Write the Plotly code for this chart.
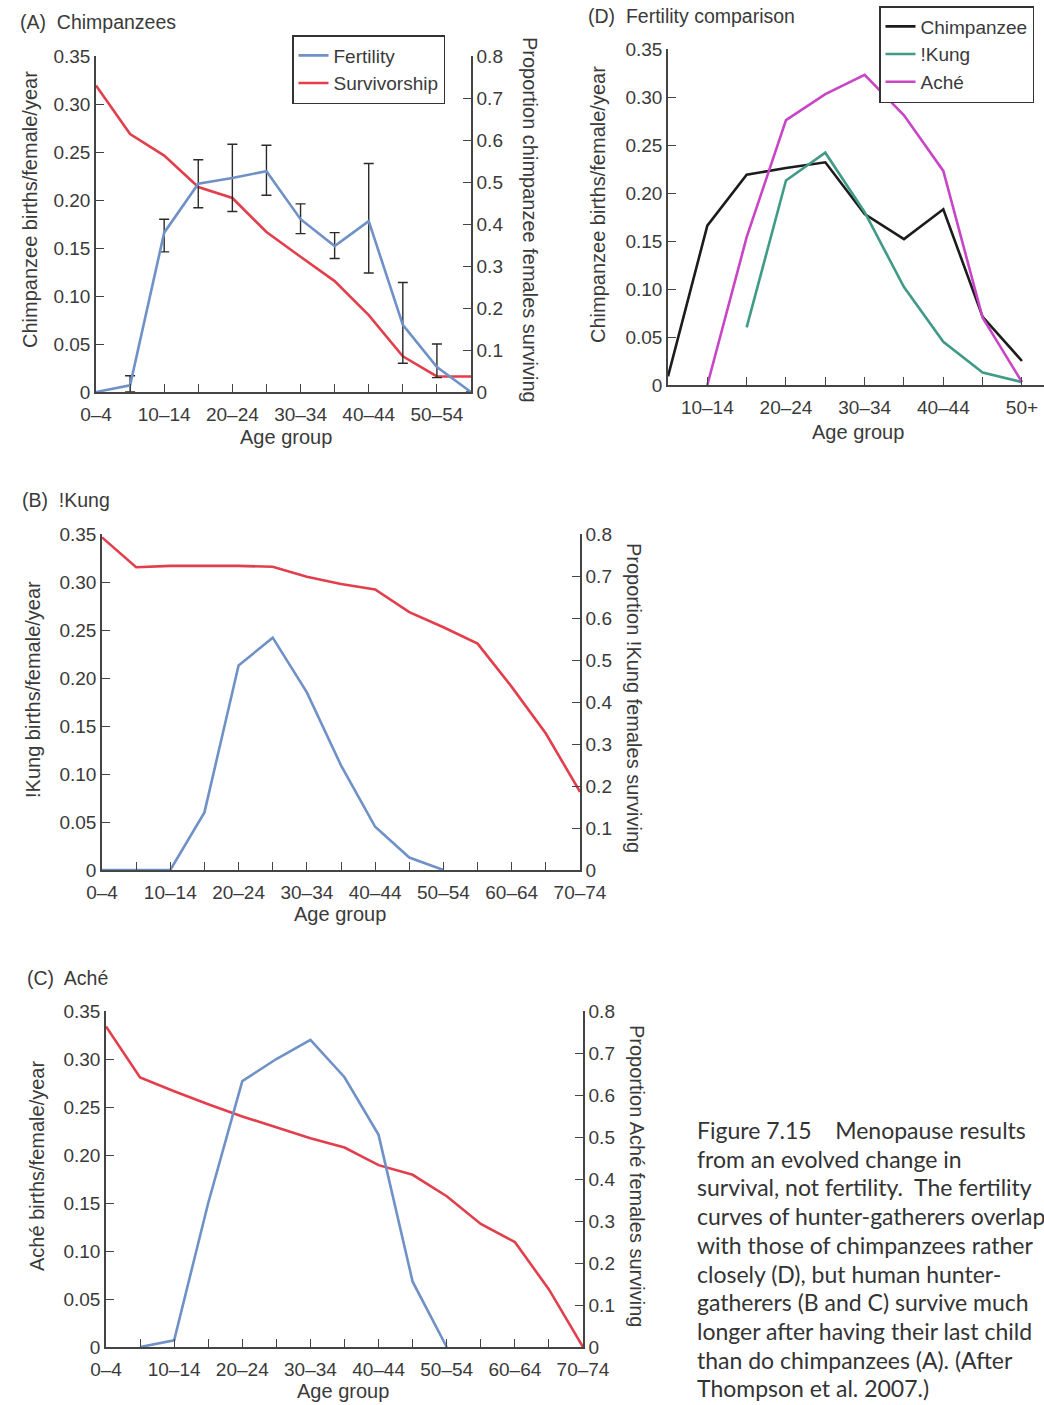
import plotly.graph_objects as go

W, H = 1044, 1405

AGE_GROUPS = ["0–4", "5–9", "10–14", "15–19", "20–24", "25–29", "30–34", "35–39",
              "40–44", "45–49", "50–54", "55–59", "60–64", "65–69", "70–74"]
D_GROUPS = ["5–9", "10–14", "15–19", "20–24", "25–29", "30–34", "35–39", "40–44", "45–49", "50+"]

# (A) chimpanzees, 0-4 .. 55-59
chimp_fert = [0.0, 0.007, 0.166, 0.217, 0.223, 0.230, 0.180, 0.152, 0.178, 0.070, 0.026, 0.0]
chimp_ci_top = [None, 0.017, 0.180, 0.242, 0.258, 0.257, 0.196, 0.166, 0.238, 0.114, 0.050, None]
chimp_ci_bot = [None, 0.0, 0.146, 0.192, 0.188, 0.205, 0.165, 0.139, 0.124, 0.030, 0.015, None]
chimp_surv = [0.730, 0.614, 0.563, 0.488, 0.462, 0.381, 0.322, 0.264, 0.183, 0.085, 0.037, 0.037]

# (B) !Kung
kung_fert = [0.0, 0.0, 0.0, 0.060, 0.213, 0.242, 0.185, 0.109, 0.045, 0.013, 0.0]
kung_surv = [0.792, 0.721, 0.724, 0.724, 0.724, 0.722, 0.698, 0.681, 0.668, 0.614,
             0.578, 0.539, 0.436, 0.325, 0.186]

# (C) Aché (fertility from 5-9)
ache_fert = [0.0, 0.007, 0.150, 0.277, 0.300, 0.320, 0.281, 0.221, 0.068, 0.0]
ache_surv = [0.763, 0.642, 0.609, 0.578, 0.549, 0.523, 0.497, 0.475, 0.433, 0.410,
             0.359, 0.293, 0.250, 0.137, 0.0]

# (D) comparison, 5-9 .. 50+
d_chimp = [0.009, 0.166, 0.219, 0.226, 0.232, 0.178, 0.152, 0.183, 0.071, 0.025]
d_kung = [None, None, 0.060, 0.213, 0.242, 0.180, 0.102, 0.045, 0.013, 0.003]
d_ache = [None, 0.0, 0.154, 0.276, 0.303, 0.323, 0.281, 0.223, 0.070, 0.003]

caption_lines = [
    "Figure 7.15\u00a0\u00a0\u00a0 Menopause results",
    "from an evolved change in",
    "survival, not fertility.\u00a0 The fertility",
    "curves of hunter-gatherers overlap",
    "with those of chimpanzees rather",
    "closely (D), but human hunter-",
    "gatherers (B and C) survive much",
    "longer after having their last child",
    "than do chimpanzees (A). (After",
    "Thompson et al. 2007.)",
]

BLUE = "#6f91c7"
RED = "#e23e4c"
GREEN = "#3f9b88"
MAGENTA = "#c845c6"
BLACK = "#1c1c1c"
INK = "#3a3a3a"
FONT = "Liberation Sans, Arial, sans-serif"


def px(x):
    return x / W


def py(y):
    return 1 - y / H


fig = go.Figure()

# ---- A ----
a_x = AGE_GROUPS[:12]
fig.add_trace(go.Scatter(x=a_x, y=chimp_surv, xaxis="x", yaxis="y", mode="lines",
                         name="Survivorship", legendrank=2,
                         line=dict(color=RED, width=2.6)))
err_up = [None if t is None else t - v for t, v in zip(chimp_ci_top, chimp_fert)]
err_dn = [None if b is None else v - b for b, v in zip(chimp_ci_bot, chimp_fert)]
fig.add_trace(go.Scatter(x=a_x, y=chimp_fert, xaxis="x", yaxis="y2", mode="lines",
                         name="Fertility", legendrank=1,
                         line=dict(color=BLUE, width=2.6),
                         error_y=dict(type="data", array=err_up, arrayminus=err_dn,
                                      color="#2a2a2a", thickness=1.4, width=5)))

# ---- B ----
fig.add_trace(go.Scatter(x=AGE_GROUPS, y=kung_surv, xaxis="x2", yaxis="y3", mode="lines",
                         showlegend=False, line=dict(color=RED, width=2.6)))
fig.add_trace(go.Scatter(x=AGE_GROUPS[:11], y=kung_fert, xaxis="x2", yaxis="y4", mode="lines",
                         showlegend=False, line=dict(color=BLUE, width=2.6)))

# ---- C ----
fig.add_trace(go.Scatter(x=AGE_GROUPS, y=ache_surv, xaxis="x3", yaxis="y5", mode="lines",
                         showlegend=False, line=dict(color=RED, width=2.6)))
fig.add_trace(go.Scatter(x=AGE_GROUPS[1:11], y=ache_fert, xaxis="x3", yaxis="y6", mode="lines",
                         showlegend=False, line=dict(color=BLUE, width=2.6)))

# ---- D ----
fig.add_trace(go.Scatter(x=D_GROUPS, y=d_chimp, xaxis="x4", yaxis="y7", mode="lines",
                         name="Chimpanzee", legend="legend2", line=dict(color=BLACK, width=2.6)))
fig.add_trace(go.Scatter(x=D_GROUPS, y=d_kung, xaxis="x4", yaxis="y7", mode="lines",
                         name="!Kung", legend="legend2", line=dict(color=GREEN, width=2.6)))
fig.add_trace(go.Scatter(x=D_GROUPS, y=d_ache, xaxis="x4", yaxis="y7", mode="lines",
                         name="Aché", legend="legend2", line=dict(color=MAGENTA, width=2.6)))

axis_common = dict(showgrid=False, zeroline=False, showline=True, linecolor="#444",
                   linewidth=1.5, tickcolor="#444", tickwidth=1.3, ticklen=8,
                   automargin=False, ticks="inside",
                   tickfont=dict(size=19, color=INK, family=FONT))


def xaxis(dom, cats, rng, anchor, labels):
    return dict(axis_common, domain=dom, type="category", categoryorder="array",
                categoryarray=cats, range=rng, anchor=anchor,
                tickmode="array", tickvals=cats, ticklabelstandoff=4,
                ticktext=[c if c in labels else "" for c in cats])


def yleft(dom, anchor, overlay=None):
    d = dict(axis_common, domain=dom, range=[0, 0.35], anchor=anchor, side="left",
             tickvals=[0, 0.05, 0.1, 0.15, 0.2, 0.25, 0.3, 0.35],
             ticktext=["0", "0.05", "0.10", "0.15", "0.20", "0.25", "0.30", "0.35"])
    if overlay:
        d["overlaying"] = overlay
    return d


def yright(dom, anchor):
    return dict(axis_common, domain=dom, range=[0, 0.8], anchor=anchor, side="right",
                tickvals=[0, 0.1, 0.2, 0.3, 0.4, 0.5, 0.6, 0.7, 0.8],
                ticktext=["0", "0.1", "0.2", "0.3", "0.4", "0.5", "0.6", "0.7", "0.8"])


labels_main = ["0–4", "10–14", "20–24", "30–34", "40–44", "50–54", "60–64", "70–74"]

a_dom_x = [px(96), px(471)]
a_dom_y = [py(392), py(56)]
b_dom_x = [px(102), px(580)]
b_dom_y = [py(870), py(534)]
c_dom_x = [px(106), px(583)]
c_dom_y = [py(1347), py(1011)]
d_dom_x = [px(668), 1.0]
d_dom_y = [py(385), py(49)]

legend_style = dict(xanchor="left", yanchor="top", bordercolor="#333", borderwidth=1.5,
                    bgcolor="white", font=dict(size=19, color=INK, family=FONT),
                    tracegroupgap=0, itemwidth=30)

fig.update_layout(
    template="none",
    width=W, height=H, margin=dict(l=0, r=0, t=0, b=0, pad=0, autoexpand=False),
    paper_bgcolor="white", plot_bgcolor="rgba(0,0,0,0)",
    font=dict(family=FONT, color=INK, size=19),
    xaxis=xaxis(a_dom_x, AGE_GROUPS[:12], [0, 11], "y", labels_main),
    yaxis=yright(a_dom_y, "x"),
    yaxis2=yleft(a_dom_y, "x", overlay="y"),
    xaxis2=xaxis(b_dom_x, AGE_GROUPS, [0, 14], "y3", labels_main),
    yaxis3=yright(b_dom_y, "x2"),
    yaxis4=yleft(b_dom_y, "x2", overlay="y3"),
    xaxis3=xaxis(c_dom_x, AGE_GROUPS, [0, 14], "y5", labels_main),
    yaxis5=yright(c_dom_y, "x3"),
    yaxis6=yleft(c_dom_y, "x3", overlay="y5"),
    xaxis4=xaxis(d_dom_x, D_GROUPS, [0, 9.56], "y7", ["10–14", "20–24", "30–34", "40–44", "50+"]),
    yaxis7=yleft(d_dom_y, "x4"),
    legend=dict(legend_style, x=px(292), y=py(35)),
    legend2=dict(legend_style, x=px(879), y=py(6)),
    showlegend=True,
)

annotations = []


def text(x, y, s, angle=0, anchor="center", size=20, family=FONT, color=INK):
    annotations.append(dict(x=px(x), y=py(y), xref="paper", yref="paper", text=s,
                            showarrow=False, textangle=angle, xanchor=anchor,
                            yanchor="middle", font=dict(size=size, color=color, family=family)))


text(18, 22, "(A)  Chimpanzees", anchor="left", size=19.5)
text(20, 500, "(B)  !Kung", anchor="left", size=19.5)
text(25, 978, "(C)  Aché", anchor="left", size=19.5)
text(586, 16, "(D)  Fertility comparison", anchor="left", size=19.5)

text(30, 210, "Chimpanzee births/female/year", angle=-90)
text(530, 220, "Proportion chimpanzee females surviving", angle=90)
text(33, 690, "!Kung births/female/year", angle=-90)
text(634, 698, "Proportion !Kung females surviving", angle=90)
text(37, 1166, "Aché births/female/year", angle=-90)
text(637, 1176, "Proportion Aché females surviving", angle=90)
text(598, 205, "Chimpanzee births/female/year", angle=-90)

text(286, 437, "Age group")
text(340, 914, "Age group")
text(343, 1391, "Age group")
text(858, 432, "Age group")

for i, line in enumerate(caption_lines):
    text(695, 1130 + 28.7 * i, line, anchor="left", size=23,
         family="Lato, Noto Sans, sans-serif", color="#333")

fig.update_layout(annotations=annotations)

# the page body has a default 8px margin; remove it so the figure fills the window
fig.write_html("out.html", config={"displayModeBar": False},
               post_script="document.body.style.margin='0';")
